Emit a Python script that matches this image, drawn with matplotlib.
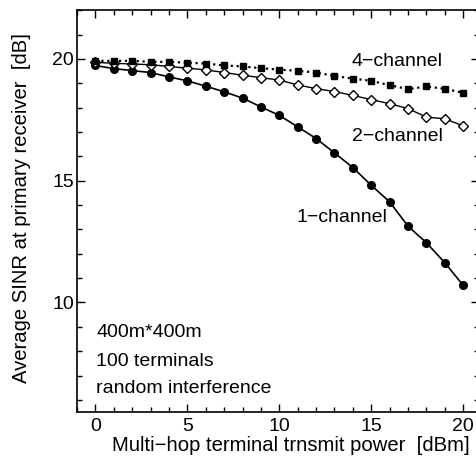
import matplotlib
matplotlib.use("Agg")
import matplotlib.pyplot as plt
from matplotlib.ticker import MultipleLocator

plt.rcParams['font.family'] = ['Liberation Sans', 'DejaVu Sans']

power = list(range(0, 21))
ch1 = [19.73, 19.60, 19.52, 19.44, 19.26, 19.10, 18.88, 18.65, 18.39, 18.03,
       17.68, 17.21, 16.73, 16.14, 15.54, 14.81, 14.13, 13.13, 12.45, 11.63, 10.70]
ch2 = [19.86, 19.82, 19.79, 19.76, 19.69, 19.62, 19.55, 19.44, 19.33, 19.23,
       19.13, 18.93, 18.78, 18.66, 18.50, 18.33, 18.16, 17.96, 17.61, 17.54, 17.25]
ch4 = [19.92, 19.92, 19.92, 19.88, 19.88, 19.84, 19.81, 19.73, 19.69, 19.62,
       19.56, 19.51, 19.44, 19.30, 19.19, 19.10, 18.92, 18.76, 18.87, 18.77, 18.61]

fig = plt.figure(figsize=(4.76, 4.63), dpi=100)
ax = fig.add_axes([0.1618, 0.110, 1.006 - 0.1618, 0.978 - 0.110])

ax.plot(power, ch1, '-', color='black', lw=1.2, marker='o', ms=5.5,
        mfc='black', mec='black')
ax.plot(power, ch2, '-', color='black', lw=1.0, marker='D', ms=5.0,
        mfc='white', mec='black', mew=1.0)
ax.plot(power, ch4, ':', color='black', lw=1.6, marker='s', ms=5.0,
        mfc='black', mec='black')

fs = 14
ax.text(16.4, 19.9, '4\u2212channel', ha='center', va='center', fontsize=fs)
ax.text(16.4, 16.8, '2\u2212channel', ha='center', va='center', fontsize=fs)
ax.text(13.4, 13.5, '1\u2212channel', ha='center', va='center', fontsize=fs)
ax.text(0.05, 8.77, '400m*400m', ha='left', va='center', fontsize=fs)
ax.text(0.05, 7.58, '100 terminals', ha='left', va='center', fontsize=fs)
ax.text(0.05, 6.48, 'random interference', ha='left', va='center', fontsize=fs)

ax.set_xlim(-1, 20.85)
ax.set_ylim(5.5, 22)
ax.set_xticks([0, 5, 10, 15, 20])
ax.set_yticks([10, 15, 20])
ax.xaxis.set_minor_locator(MultipleLocator(1))
ax.yaxis.set_minor_locator(MultipleLocator(1))
ax.tick_params(which='both', direction='in', top=True, right=True,
               labelsize=fs, width=1.0)
ax.tick_params(which='major', length=6)
ax.tick_params(which='minor', length=3.7)
ax.tick_params(axis='y', which='major', pad=2)
ax.tick_params(axis='x', which='major', pad=4)
for s in ax.spines.values():
    s.set_linewidth(1.2)

ax.set_xlabel('Multi\u2212hop terminal trnsmit power  [dBm]', fontsize=14.6)
ax.set_ylabel('Average SINR at primary receiver  [dB]', fontsize=14.6)
ax.xaxis.set_label_coords(0.532, -0.06)
ax.yaxis.set_label_coords(-0.114, 0.509)

fig.savefig('out.png', dpi=100)
